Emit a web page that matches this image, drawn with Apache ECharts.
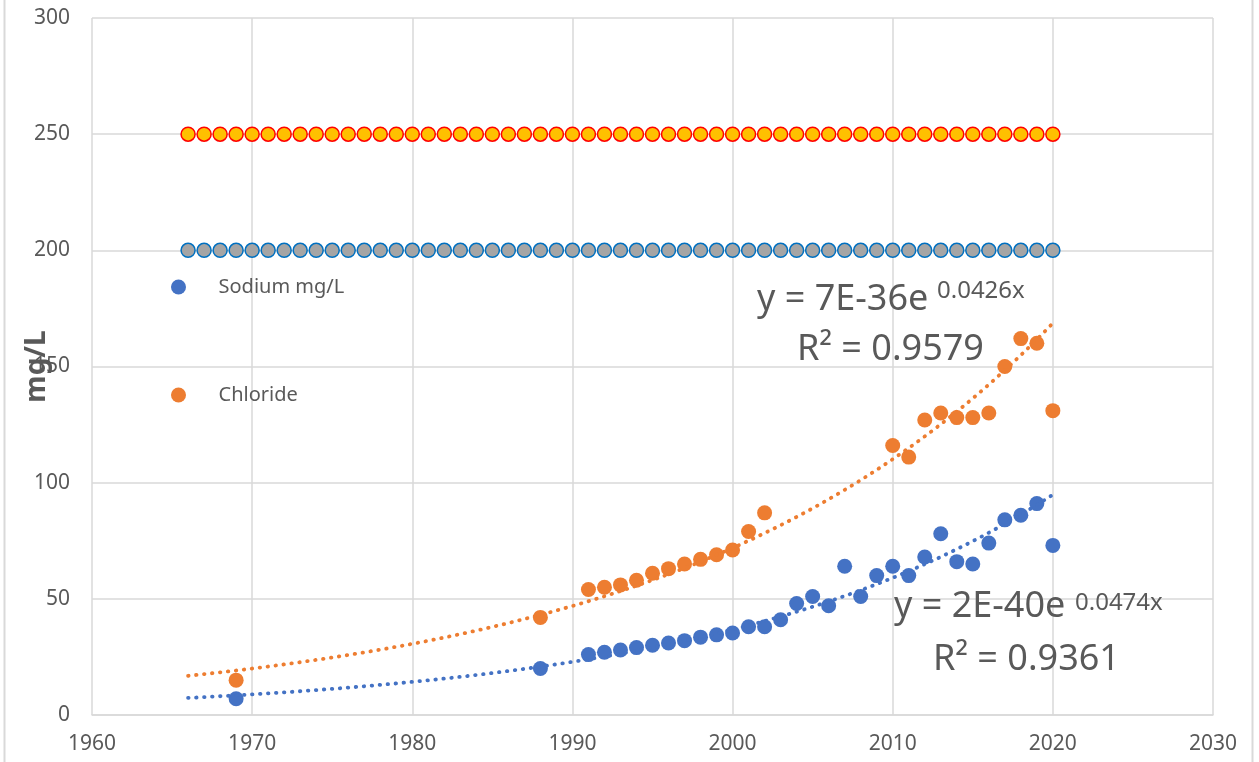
<!DOCTYPE html>
<html>
<head>
<meta charset="utf-8">
<style>
html,body{margin:0;padding:0;background:#fff;}
#chart{width:1259px;height:762px;}
</style>
<script src="https://cdn.jsdelivr.net/npm/echarts@6/dist/echarts.min.js"></script>
</head>
<body>
<div id="chart"></div>
<script>
// ---- data ----
const sampleYears = [1969, 1988, 1991, 1992, 1993, 1994, 1995, 1996, 1997, 1998, 1999, 2000, 2001, 2002, 2003, 2004, 2005, 2006, 2007, 2008, 2009, 2010, 2011, 2012, 2013, 2014, 2015, 2016, 2017, 2018, 2019, 2020];
const sodium = [7, 20, 26, 27, 28, 29, 30, 31, 32, 33.5, 34.5, 35.3, 38, 38, 41, 48, 51, 47, 64, 51, 60, 64, 60, 68, 78, 66, 65, 74, 84, 86, 91, 73];
const chloride = [15, 42, 54, 55, 56, 58, 61, 63, 65, 67, 69, 71, 79, 87, null, null, null, null, null, null, null, 116, 111, 127, 130, 128, 128, 130, 150, 162, 160, 131];
const limitYears = [1966, 1967, 1968, 1969, 1970, 1971, 1972, 1973, 1974, 1975, 1976, 1977, 1978, 1979, 1980, 1981, 1982, 1983, 1984, 1985, 1986, 1987, 1988, 1989, 1990, 1991, 1992, 1993, 1994, 1995, 1996, 1997, 1998, 1999, 2000, 2001, 2002, 2003, 2004, 2005, 2006, 2007, 2008, 2009, 2010, 2011, 2012, 2013, 2014, 2015, 2016, 2017, 2018, 2019, 2020];
const chlorideLimit = 250;
const sodiumLimit = 200;
const trendStart = 1966;
const trendEnd = 2020;
const xTicks = [1960, 1970, 1980, 1990, 2000, 2010, 2020, 2030];
const yTicks = [0, 50, 100, 150, 200, 250, 300];

// ---- helpers ----
function pairs(xs, ys) {
  const out = [];
  xs.forEach((x, i) => { if (ys[i] != null) out.push([x, ys[i]]); });
  return out;
}
// exponential least-squares fit (ln y = a + b x), like a spreadsheet trendline
function expTrend(xs, ys) {
  const p = pairs(xs, ys);
  const n = p.length;
  let sx = 0, sy = 0, sxx = 0, sxy = 0;
  p.forEach(([x, y]) => { const u = x - 1990, v = Math.log(y); sx += u; sy += v; sxx += u * u; sxy += u * v; });
  const b = (n * sxy - sx * sy) / (n * sxx - sx * sx);
  const a = (sy - b * sx) / n;
  const out = [];
  for (let x = trendStart; x <= trendEnd + 1e-9; x += 0.5) out.push([x, Math.exp(a + b * (x - 1990))]);
  return out;
}

const TXT = '#595959';
const GRID = '#D9D9D9';
const FONT = 'Noto Sans';

const chart = echarts.init(document.getElementById('chart'));
chart.setOption({
  backgroundColor: '#fff',
  animation: false,
  textStyle: { fontFamily: FONT },
  grid: { left: 92, right: 46, top: 18, bottom: 47, containLabel: false, outerBoundsMode: 'none' },
  legend: {
    orient: 'vertical',
    left: 166, top: 270,
    padding: 5,
    itemWidth: 70, itemHeight: 15, itemGap: 84,
    icon: 'circle',
    data: ['Sodium mg/L', 'Chloride'],
    textStyle: { color: TXT, fontSize: 20, fontFamily: FONT, lineHeight: 24 }
  },
  xAxis: {
    type: 'value', min: xTicks[0], max: xTicks[xTicks.length - 1], interval: 10,
    axisLine: { show: true, lineStyle: { color: GRID, width: 1.5 } },
    axisTick: { show: false },
    splitLine: { show: true, lineStyle: { color: GRID, width: 1.5 } },
    axisLabel: { color: TXT, fontSize: 21, margin: 19, fontFamily: FONT, formatter: v => String(v) }
  },
  yAxis: {
    type: 'value', min: yTicks[0], max: yTicks[yTicks.length - 1], interval: 50,
    name: 'mg/L', nameLocation: 'middle', nameGap: 41, nameRotate: 90, nameMoveOverlap: false,
    nameTextStyle: { color: TXT, fontSize: 28, fontWeight: 'bold', fontFamily: FONT },
    axisLine: { show: false },
    axisTick: { show: false },
    splitLine: { show: true, lineStyle: { color: GRID, width: 1.5 } },
    axisLabel: { color: TXT, fontSize: 21, margin: 22, fontFamily: FONT, formatter: v => String(v) }
  },
  series: [
    {
      name: 'Chloride limit', type: 'scatter', symbol: 'circle', symbolSize: 14, z: 3,
      itemStyle: { color: '#FFC000', borderColor: '#FF0000', borderWidth: 1.5, opacity: 1 },
      data: limitYears.map(y => [y, chlorideLimit])
    },
    {
      name: 'Sodium limit', type: 'scatter', symbol: 'circle', symbolSize: 14, z: 3,
      itemStyle: { color: '#A5A5A5', borderColor: '#0070C0', borderWidth: 1.5, opacity: 1 },
      data: limitYears.map(y => [y, sodiumLimit])
    },
    {
      name: 'Sodium mg/L', type: 'scatter', symbol: 'circle', symbolSize: 15, z: 3,
      itemStyle: { color: '#4472C4', opacity: 1 },
      data: pairs(sampleYears, sodium)
    },
    {
      name: 'Chloride', type: 'scatter', symbol: 'circle', symbolSize: 15, z: 3,
      itemStyle: { color: '#ED7D31', opacity: 1 },
      data: pairs(sampleYears, chloride)
    },
    {
      name: 'Sodium trend', type: 'line', showSymbol: false, symbol: 'none', smooth: false, z: 4,
      lineStyle: { color: '#4472C4', width: 3.8, type: [0.5, 7.5], cap: 'round' },
      data: expTrend(sampleYears, sodium)
    },
    {
      name: 'Chloride trend', type: 'line', showSymbol: false, symbol: 'none', smooth: false, z: 4,
      lineStyle: { color: '#ED7D31', width: 3.8, type: [0.5, 7.5], cap: 'round' },
      data: expTrend(sampleYears, chloride)
    }
  ],
  graphic: [
    { type: 'line', shape: { x1: 4.5, y1: 0, x2: 4.5, y2: 762 }, style: { stroke: GRID, lineWidth: 2 } },
    { type: 'line', shape: { x1: 1252.5, y1: 0, x2: 1252.5, y2: 762 }, style: { stroke: GRID, lineWidth: 2 } },
    { type: 'text', position: [757, 300], style: { text: 'y = 7E-36e', fill: TXT, fontSize: 36, fontFamily: FONT, verticalAlign: 'middle' }, z: 10 },
    { type: 'text', position: [937, 291], style: { text: '0.0426x', fill: TXT, fontSize: 24, fontFamily: FONT, verticalAlign: 'middle' }, z: 10 },
    { type: 'text', position: [797, 350], style: { text: 'R² = 0.9579', fill: TXT, fontSize: 36, fontFamily: FONT, verticalAlign: 'middle' }, z: 10 },
    { type: 'text', position: [894, 607], style: { text: 'y = 2E-40e', fill: TXT, fontSize: 36, fontFamily: FONT, verticalAlign: 'middle' }, z: 10 },
    { type: 'text', position: [1075, 603], style: { text: '0.0474x', fill: TXT, fontSize: 24, fontFamily: FONT, verticalAlign: 'middle' }, z: 10 },
    { type: 'text', position: [933, 660], style: { text: 'R² = 0.9361', fill: TXT, fontSize: 36, fontFamily: FONT, verticalAlign: 'middle' }, z: 10 }
  ]
});
</script>
</body>
</html>
